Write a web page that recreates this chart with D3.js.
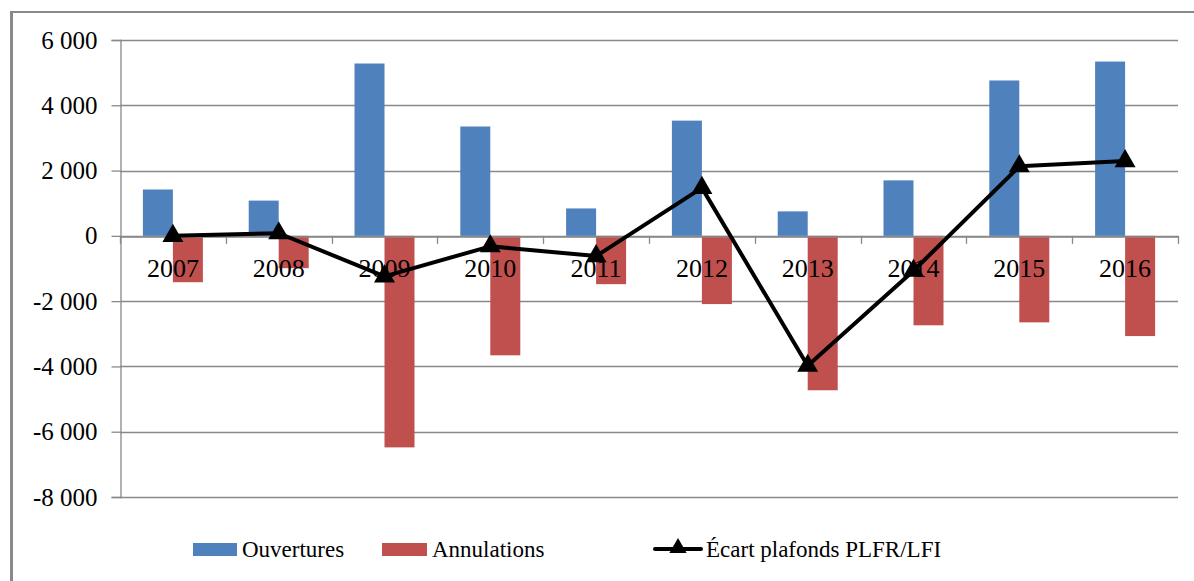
<!DOCTYPE html>
<html>
<head>
<meta charset="utf-8">
<script src="https://cdn.jsdelivr.net/npm/d3@7"></script>
<style>
  html, body { margin: 0; padding: 0; background: #fff; }
  svg { display: block; }
  text { font-family: "Liberation Serif", "Times New Roman", serif; fill: #000; }
</style>
</head>
<body>
<svg id="chart" width="1194" height="581"></svg>
<script>
// Budget credits per year: openings, cancellations, gap between ceilings
const years = ["2007", "2008", "2009", "2010", "2011", "2012", "2013", "2014", "2015", "2016"];
const ouvertures  = [1420, 1080, 5280, 3350, 840, 3530, 750, 1700, 4760, 5340];
const annulations = [-1420, -990, -6480, -3660, -1480, -2090, -4730, -2740, -2650, -3070];
const ecart       = [0, 80, -1240, -320, -620, 1470, -3980, -1070, 2130, 2290];
const yTicks = [-8000, -6000, -4000, -2000, 0, 2000, 4000, 6000];
const seriesNames = ["Ouvertures", "Annulations", "Écart plafonds PLFR/LFI"];

const colBlue = "#4f81bd", colRed = "#c0504d", gridCol = "#898989";

const svg = d3.select("#chart");

// outer frame (top and left edges)
svg.append("line").attr("x1", 11).attr("x2", 1194).attr("y1", 12).attr("y2", 12)
  .attr("stroke", gridCol).attr("stroke-width", 2);
svg.append("line").attr("x1", 11.5).attr("x2", 11.5).attr("y1", 11).attr("y2", 581)
  .attr("stroke", gridCol).attr("stroke-width", 3);

const plotL = 120, plotR = 1178, plotT = 40, plotB = 497;

const x = d3.scaleBand().domain(years).range([plotL, plotR]).paddingInner(0).paddingOuter(0);
const y = d3.scaleLinear().domain([-8000, 6000]).range([plotB, plotT]);
const fmt = v => d3.format(",")(v).replace(/,/g, " ").replace("−", "-");

// horizontal gridlines
svg.append("g").selectAll("line").data(yTicks).join("line")
  .attr("x1", plotL).attr("x2", plotR)
  .attr("y1", d => Math.round(y(d)) + 0.5).attr("y2", d => Math.round(y(d)) + 0.5)
  .attr("stroke", gridCol).attr("stroke-width", 1.3);

// y axis
const yAxis = d3.axisLeft(y).tickValues(yTicks).tickSize(9).tickPadding(14)
  .tickFormat(d => fmt(d));
const gy = svg.append("g").attr("transform", `translate(${plotL + 0.5},0)`).call(yAxis);
gy.select(".domain").attr("stroke", gridCol).attr("stroke-width", 1.3);
gy.selectAll(".tick line").attr("stroke", gridCol).attr("stroke-width", 1.3);
gy.selectAll(".tick text").style("font-size", "25px").style("font-family", "Liberation Serif").attr("fill", "#000");

// bars
const bw = 30;
const barG = svg.append("g");
barG.selectAll("rect.o").data(years).join("rect").attr("class", "o")
  .attr("x", (d) => x(d) + x.bandwidth() / 2 - bw)
  .attr("width", bw)
  .attr("y", (d, i) => y(Math.max(0, ouvertures[i])))
  .attr("height", (d, i) => Math.abs(y(ouvertures[i]) - y(0)))
  .attr("fill", colBlue);
barG.selectAll("rect.a").data(years).join("rect").attr("class", "a")
  .attr("x", (d) => x(d) + x.bandwidth() / 2)
  .attr("width", bw)
  .attr("y", y(0))
  .attr("height", (d, i) => Math.abs(y(annulations[i]) - y(0)))
  .attr("fill", colRed);

// category axis on the zero line
const xAxis = d3.axisBottom(x).tickSize(0).tickPadding(22);
const gx = svg.append("g").attr("transform", `translate(0,${Math.round(y(0)) + 0.5})`).call(xAxis);
gx.select(".domain").attr("stroke", gridCol).attr("stroke-width", 1.3);
gx.selectAll(".tick text").style("font-size", "26px").style("font-family", "Liberation Serif").attr("fill", "#000");
// boundary tick marks between categories
svg.append("g").selectAll("line").data(years.concat(["end"])).join("line")
  .attr("x1", (d, i) => Math.round(plotL + i * x.step()) + 0.5)
  .attr("x2", (d, i) => Math.round(plotL + i * x.step()) + 0.5)
  .attr("y1", y(0)).attr("y2", y(0) + 8)
  .attr("stroke", gridCol).attr("stroke-width", 1.3);

// gap line with triangle markers
const cx = d => x(d) + x.bandwidth() / 2;
const line = d3.line().x((d, i) => cx(years[i])).y(d => y(d));
svg.append("path").datum(ecart).attr("d", line)
  .attr("fill", "none").attr("stroke", "#000").attr("stroke-width", 4).attr("stroke-linejoin", "round");
const tri = d3.symbol().type(d3.symbolTriangle).size(190);
svg.append("g").selectAll("path").data(ecart).join("path")
  .attr("d", tri)
  .attr("transform", (d, i) => `translate(${cx(years[i])},${y(d)})`)
  .attr("fill", "#000");

// legend
const ly = 549;
const lg = svg.append("g");
lg.append("rect").attr("x", 193).attr("y", ly - 6).attr("width", 44).attr("height", 13).attr("fill", colBlue);
lg.append("text").attr("x", 242).attr("y", ly).attr("dy", "0.35em").style("font-size", "23px").text(seriesNames[0]);
lg.append("rect").attr("x", 382).attr("y", ly - 6).attr("width", 45).attr("height", 13).attr("fill", colRed);
lg.append("text").attr("x", 432).attr("y", ly).attr("dy", "0.35em").style("font-size", "23px").text(seriesNames[1]);
lg.append("line").attr("x1", 655).attr("x2", 701).attr("y1", ly).attr("y2", ly)
  .attr("stroke", "#000").attr("stroke-width", 4).attr("stroke-linecap", "round");
lg.append("path").attr("d", d3.symbol().type(d3.symbolTriangle).size(130))
  .attr("transform", `translate(678,${ly - 1})`).attr("fill", "#000");
lg.append("text").attr("x", 706).attr("y", ly).attr("dy", "0.35em").style("font-size", "23px").text(seriesNames[2]);
</script>
</body>
</html>
